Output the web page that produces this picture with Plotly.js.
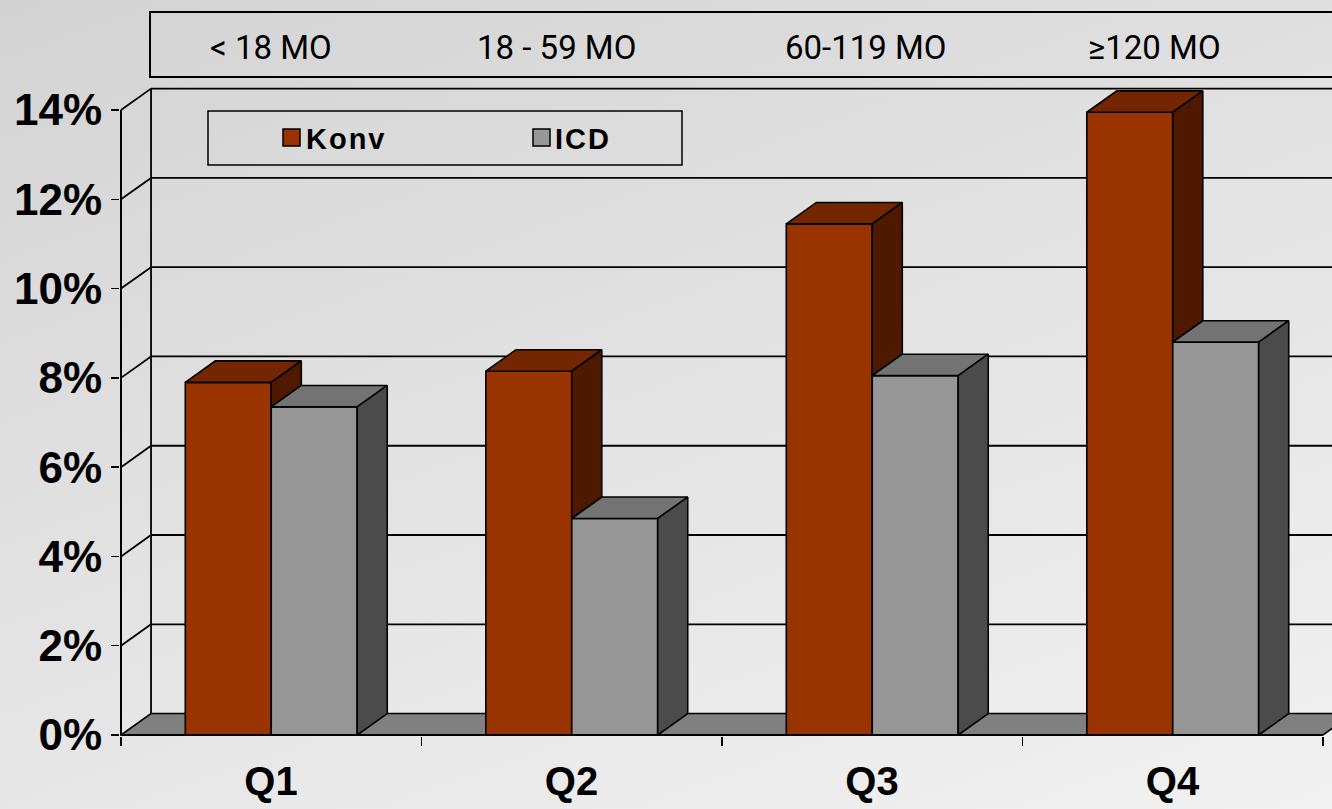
<!DOCTYPE html>
<html>
<head>
<meta charset="utf-8">
<script src="https://cdn.plot.ly/plotly-3.0.1.min.js"></script>
<style>
  html, body { margin: 0; padding: 0; }
  body { width: 1332px; height: 809px; overflow: hidden;
         background: linear-gradient(160deg, #d3d3d3 0%, #e3e3e3 50%, #f1f1f1 100%); }
  #chart { width: 1332px; height: 809px; }
  .annotation[data-index="4"] text, .annotation[data-index="5"] text { letter-spacing: 2px; }
</style>
</head>
<body>
<div id="chart"></div>
<script>
// ---- data ----
const categories = ['Q1', 'Q2', 'Q3', 'Q4'];
const ageGroups = ['< 18 MO', '18 - 59 MO', '60-119 MO', '\u2265120 MO'];
const seriesNames = ['Konv', 'ICD'];
const konv = [7.9, 8.15, 11.45, 13.95];
const icd = [7.35, 4.85, 8.05, 8.8];
const yTickValues = [0, 2, 4, 6, 8, 10, 12, 14];
const yTickLabels = ['0%', '2%', '4%', '6%', '8%', '10%', '12%', '14%'];

// ---- styling / geometry ----
const W = 1332, H = 809;
const M = { l: 120, r: 0, t: 80, b: 73 };
const xRange = [-0.5033, 3.53];
const yRange = [-0.0224, 14.673];
const bargap = 0.428;
const bw = (1 - bargap) / 2;     // width of one bar in category units
const dx = 0.1, dy = 0.48;       // 3D depth offset in axis units
const colors = {
  konvFront: '#993300', konvTop: '#732600', konvSide: '#4f1900',
  icdFront: '#969696', icdTop: '#737373', icdSide: '#4b4b4b',
  floor: '#808080'
};
const LW = 1.6;
const xs = categories.map((c, i) => i);
const xMin = -0.5, xMax = categories.length - 0.5;
const yTop = yTickValues[yTickValues.length - 1];

// paper coordinate helpers for decorations
const plotW = W - M.l - M.r, plotH = H - M.t - M.b;
const px = v => (v - M.l) / plotW;
const py = v => (H - M.b - v) / plotH;

// ---- faces ----
function polys(list) {
  const X = [], Y = [];
  list.forEach(p => { p.forEach(q => { X.push(q[0]); Y.push(q[1]); }); X.push(p[0][0]); Y.push(p[0][1]); X.push(null); Y.push(null); });
  return { x: X, y: Y };
}
const konvTops = [], konvSides = [], icdTops = [], icdSides = [];
xs.forEach((c, i) => {
  const kL = c - bw, k0 = c, iR = c + bw;
  const hk = konv[i], hi = icd[i];
  konvTops.push([[kL, hk], [k0, hk], [k0 + dx, hk + dy], [kL + dx, hk + dy]]);
  if (hk > hi) konvSides.push([[k0, hi], [k0, hk], [k0 + dx, hk + dy], [k0 + dx, hi + dy]]);
  icdTops.push([[k0, hi], [iR, hi], [iR + dx, hi + dy], [k0 + dx, hi + dy]]);
  icdSides.push([[iR, 0], [iR, hi], [iR + dx, hi + dy], [iR + dx, dy]]);
});

function face(list, color) {
  const p = polys(list);
  return { type: 'scatter', mode: 'lines', x: p.x, y: p.y, fill: 'toself', fillcolor: color,
           line: { color: '#000', width: LW }, hoverinfo: 'skip', showlegend: false };
}

const data = [
  { type: 'bar', name: seriesNames[0], x: xs, y: konv, marker: { color: colors.konvFront, line: { color: '#000', width: LW } }, showlegend: false },
  { type: 'bar', name: seriesNames[1], x: xs, y: icd, marker: { color: colors.icdFront, line: { color: '#000', width: LW } }, showlegend: false },
  face(konvTops, colors.konvTop),
  face(konvSides, colors.konvSide),
  face(icdTops, colors.icdTop),
  face(icdSides, colors.icdSide)
];

// ---- walls, floor, gridlines ----
const shapes = [];
const blk = { color: '#000', width: 1.8 };
shapes.push({ type: 'path', xref: 'x', yref: 'y', layer: 'below',
  path: `M${xMin},0 L${xMin + dx},${dy} L${xMax + dx},${dy} L${xMax},0 Z`,
  fillcolor: colors.floor, line: { color: '#000', width: LW } });
yTickValues.forEach(v => {
  if (v > 0) {
    shapes.push({ type: 'line', xref: 'x', yref: 'y', layer: 'below', x0: xMin + dx, x1: xMax + dx, y0: v + dy, y1: v + dy, line: blk });
    shapes.push({ type: 'line', xref: 'x', yref: 'y', layer: 'below', x0: xMin, x1: xMin + dx, y0: v, y1: v + dy, line: blk });
  }
});
shapes.push({ type: 'line', xref: 'x', yref: 'y', layer: 'below', x0: xMin + dx, x1: xMin + dx, y0: dy, y1: yTop + dy, line: blk });
shapes.push({ type: 'line', xref: 'x', yref: 'y', layer: 'below', x0: xMin, x1: xMin, y0: 0, y1: yTop, line: { color: '#000', width: 2 } });
shapes.push({ type: 'line', xref: 'x', yref: 'y', layer: 'above', x0: xMin, x1: xMax, y0: 0, y1: 0, line: { color: '#000', width: 2 } });

// top age box
shapes.push({ type: 'rect', xref: 'paper', yref: 'paper', x0: px(150), x1: px(1345), y0: py(77), y1: py(12),
  line: { color: '#000', width: 2 }, fillcolor: 'rgba(0,0,0,0)' });
// legend box + swatches
shapes.push({ type: 'rect', xref: 'paper', yref: 'paper', x0: px(208), x1: px(682), y0: py(165), y1: py(111),
  line: { color: '#000', width: 1.5 }, fillcolor: 'rgba(0,0,0,0)' });
shapes.push({ type: 'rect', xref: 'paper', yref: 'paper', x0: px(283), x1: px(300), y0: py(146), y1: py(129),
  line: { color: '#000', width: 1.5 }, fillcolor: colors.konvFront });
shapes.push({ type: 'rect', xref: 'paper', yref: 'paper', x0: px(533), x1: px(550), y0: py(146), y1: py(129),
  line: { color: '#000', width: 1.5 }, fillcolor: colors.icdFront });

const annotations = [];
const ageShift = [0, -15, -6, -18];
ageGroups.forEach((t, i) => annotations.push({
  text: t, xref: 'x', yref: 'paper', x: xs[i], y: py(47), xshift: ageShift[i], showarrow: false,
  xanchor: 'center', yanchor: 'middle',
  font: { family: 'Roboto, Liberation Sans, sans-serif', size: 33, weight: 400, color: '#000' }
}));
annotations.push({ text: seriesNames[0], xref: 'paper', yref: 'paper', x: px(308), y: py(139), showarrow: false,
  xanchor: 'left', yanchor: 'middle', font: { family: 'Liberation Sans, Arial, sans-serif', size: 29, weight: 'bold', color: '#000' } });
annotations.push({ text: seriesNames[1], xref: 'paper', yref: 'paper', x: px(556), y: py(139), showarrow: false,
  xanchor: 'left', yanchor: 'middle', font: { family: 'Liberation Sans, Arial, sans-serif', size: 29, weight: 'bold', color: '#000' } });

const tickFont = { family: 'Liberation Sans, Arial, sans-serif', weight: 'bold', color: '#000' };
const layout = {
  width: W, height: H, margin: M,
  paper_bgcolor: 'rgba(0,0,0,0)', plot_bgcolor: 'rgba(0,0,0,0)',
  barmode: 'group', bargap: bargap, bargroupgap: 0,
  showlegend: false,
  xaxis: {
    range: xRange, fixedrange: true, showgrid: false, zeroline: false, showline: false,
    tickmode: 'array',
    tickvals: categories.map((c, i) => i - 0.5).concat([xMax]),
    ticktext: categories.concat(['']),
    ticks: 'outside', ticklen: 9, tickwidth: 1.5, tickcolor: '#000',
    ticklabelshift: 150, ticklabelstandoff: 1,
    tickfont: Object.assign({ size: 40 }, tickFont)
  },
  yaxis: {
    range: yRange, fixedrange: true, showgrid: false, zeroline: false, showline: false,
    tickmode: 'array', tickvals: yTickValues, ticktext: yTickLabels,
    ticks: 'outside', ticklen: 8, tickwidth: 1.5, tickcolor: '#000',
    tickfont: Object.assign({ size: 44 }, tickFont)
  },
  shapes: shapes,
  annotations: annotations
};

Plotly.newPlot('chart', data, layout, { displayModeBar: false, staticPlot: true });
</script>
</body>
</html>
